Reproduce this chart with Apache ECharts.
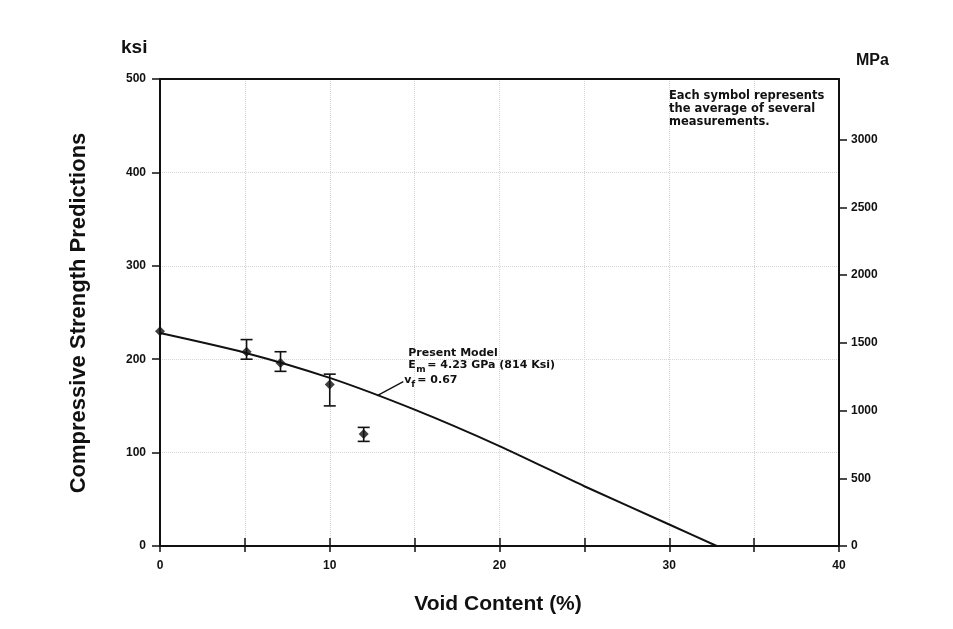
<!DOCTYPE html>
<html>
<head>
<meta charset="utf-8">
<script src="https://cdn.jsdelivr.net/npm/echarts@6/dist/echarts.min.js"></script>
<style>
  html, body { margin: 0; padding: 0; background: #ffffff; }
  #chart { width: 953px; height: 629px; }
</style>
</head>
<body>
<div id="chart"></div>
<script>
// Measured groups: void content (%) and compressive strength (ksi) with scatter range
const voidContent  = [0, 5.1, 7.1, 10.0, 12.0];
const strengthMean = [230, 208, 196, 173, 120];
const strengthHigh = [null, 221, 208, 184, 127];
const strengthLow  = [null, 200, 187, 150, 112];

// Present model prediction (ksi) against void content (%)
const modelVoid     = [0, 5, 10, 15, 20, 25, 30, 32.8];
const modelStrength = [228, 207, 180, 146, 107, 64, 23, 0];

// Axis ticks
const voidTicks = [0, 5, 10, 15, 20, 25, 30, 35, 40];
const ksiTicks  = [0, 100, 200, 300, 400, 500];
const mpaTicks  = [0, 500, 1000, 1500, 2000, 2500, 3000];
const KSI_TO_MPA = 6.894757;

const FONT = '"Liberation Sans", Arial, Helvetica, sans-serif';
const WIDE = '"DejaVu Sans", "Liberation Sans", sans-serif';
const INK = '#111111';
const GRIDDOT = '#d6d6d6';

const chart = echarts.init(document.getElementById('chart'), null, { renderer: 'canvas' });

const errorData = [];
voidContent.forEach((v, i) => {
  if (strengthHigh[i] != null) errorData.push([v, strengthHigh[i], strengthLow[i]]);
});

const labelStyle = { color: INK, fontFamily: FONT, fontWeight: 'bold', fontSize: 12 };
const plain = v => String(v);

const option = {
  backgroundColor: '#ffffff',
  animation: false,
  grid: { left: 160, right: 114, top: 79, bottom: 83, containLabel: false },
  xAxis: [
    {
      type: 'value', position: 'bottom', min: 0, max: 40, interval: 5,
      axisLine: { show: true, onZero: false, lineStyle: { color: INK, width: 2 } },
      axisTick: { show: true, inside: true, length: 8, customValues: voidTicks,
                  lineStyle: { color: INK, width: 1.5 } },
      axisLabel: Object.assign({ margin: 14, formatter: v => (v % 10 === 0 ? String(v) : '') }, labelStyle),
      splitLine: { show: true, lineStyle: { color: GRIDDOT, type: 'dotted', width: 1 } }
    },
    {
      // upper frame edge
      type: 'value', position: 'top', min: 0, max: 40,
      axisLine: { show: true, onZero: false, lineStyle: { color: INK, width: 2 } },
      axisTick: { show: false }, axisLabel: { show: false }, splitLine: { show: false }
    },
    {
      // lower half of the crossing x ticks
      type: 'value', position: 'bottom', min: 0, max: 40, interval: 5,
      axisLine: { show: false, onZero: false },
      axisTick: { show: true, inside: false, length: 6, customValues: voidTicks,
                  lineStyle: { color: INK, width: 1.5 } },
      axisLabel: { show: false }, splitLine: { show: false }
    }
  ],
  yAxis: [
    {
      type: 'value', position: 'left', min: 0, max: 500, interval: 100,
      axisLine: { show: true, onZero: false, lineStyle: { color: INK, width: 2 } },
      axisTick: { show: true, inside: false, length: 8, customValues: ksiTicks,
                  lineStyle: { color: INK, width: 1.5 } },
      axisLabel: Object.assign({ margin: 14, customValues: ksiTicks, formatter: plain }, labelStyle),
      splitLine: { show: true, lineStyle: { color: GRIDDOT, type: 'dotted', width: 1 } }
    },
    {
      type: 'value', position: 'right', min: 0, max: 500 * KSI_TO_MPA, interval: 500,
      axisLine: { show: true, onZero: false, lineStyle: { color: INK, width: 2 } },
      axisTick: { show: true, inside: false, length: 8, customValues: mpaTicks,
                  lineStyle: { color: INK, width: 1.5 } },
      axisLabel: Object.assign({ margin: 12, customValues: mpaTicks, formatter: plain }, labelStyle),
      splitLine: { show: false }
    }
  ],
  series: [
    {
      name: 'Present Model', type: 'line', xAxisIndex: 0, yAxisIndex: 0,
      data: modelVoid.map((v, i) => [v, modelStrength[i]]),
      smooth: 0.25, showSymbol: false, symbol: 'none',
      lineStyle: { color: INK, width: 2 }, z: 3
    },
    {
      name: 'range', type: 'custom', xAxisIndex: 0, yAxisIndex: 0,
      data: errorData, clip: false, z: 4,
      renderItem: function (params, api) {
        const x = api.value(0);
        const top = api.coord([x, api.value(1)]);
        const bot = api.coord([x, api.value(2)]);
        const half = 6;
        const style = { stroke: INK, lineWidth: 1.6 };
        return {
          type: 'group',
          children: [
            { type: 'line', shape: { x1: top[0], y1: top[1], x2: bot[0], y2: bot[1] }, style: style },
            { type: 'line', shape: { x1: top[0] - half, y1: top[1], x2: top[0] + half, y2: top[1] }, style: style },
            { type: 'line', shape: { x1: bot[0] - half, y1: bot[1], x2: bot[0] + half, y2: bot[1] }, style: style }
          ]
        };
      }
    },
    {
      name: 'measured', type: 'scatter', xAxisIndex: 0, yAxisIndex: 0,
      data: voidContent.map((v, i) => [v, strengthMean[i]]),
      symbol: 'diamond', symbolSize: 10, clip: false, z: 5,
      itemStyle: { color: INK }
    }
  ]
};

chart.setOption(option);

// Titles, note and the model annotation with a leader line touching the curve
const anchor = chart.convertToPixel({ xAxisIndex: 0, yAxisIndex: 0 }, [12.8, 161]);
const tx = anchor[0] + 31, ty = anchor[1] - 48;
chart.setOption({
  graphic: [
    { id: 'ksi', type: 'text', left: 121, top: 38,
      style: { text: 'ksi', fill: INK, font: 'bold 19px ' + FONT } },
    { id: 'mpa', type: 'text', left: 856, top: 53,
      style: { text: 'MPa', fill: INK, font: 'bold 16px ' + FONT } },
    { id: 'ytitle', type: 'text', x: 79, y: 313, rotation: Math.PI / 2,
      style: { text: 'Compressive Strength Predictions', fill: INK, font: 'bold 22px ' + FONT,
               align: 'center', verticalAlign: 'middle' } },
    { id: 'xtitle', type: 'text', x: 498, y: 604,
      style: { text: 'Void Content (%)', fill: INK, font: 'bold 21px ' + FONT,
               align: 'center', verticalAlign: 'middle' } },
    { id: 'note', type: 'text', x: 669, y: 90,
      style: { text: 'Each symbol represents\nthe average of several\nmeasurements.', fill: INK,
               font: 'bold 11.5px ' + WIDE, lineHeight: 13 } },
    { id: 'leader', type: 'line',
      shape: { x1: anchor[0], y1: anchor[1], x2: anchor[0] + 26, y2: anchor[1] - 14 },
      style: { stroke: INK, lineWidth: 1.3 } },
    { id: 'm1', type: 'text', x: tx, y: ty,
      style: { text: 'Present Model', fill: INK, font: 'bold 11px ' + WIDE } },
    { id: 'm2', type: 'text', x: tx, y: ty + 12,
      style: { text: 'E', fill: INK, font: 'bold 11px ' + WIDE } },
    { id: 'm3', type: 'text', x: tx + 8, y: ty + 18,
      style: { text: 'm', fill: INK, font: 'bold 9px ' + WIDE } },
    { id: 'm4', type: 'text', x: tx + 19, y: ty + 12,
      style: { text: '= 4.23 GPa (814 Ksi)', fill: INK, font: 'bold 11px ' + WIDE } },
    { id: 'm5', type: 'text', x: tx - 4, y: ty + 27,
      style: { text: 'v', fill: INK, font: 'bold 11px ' + WIDE } },
    { id: 'm6', type: 'text', x: tx + 3, y: ty + 33,
      style: { text: 'f', fill: INK, font: 'bold 9px ' + WIDE } },
    { id: 'm7', type: 'text', x: tx + 9, y: ty + 27,
      style: { text: '= 0.67', fill: INK, font: 'bold 11px ' + WIDE } }
  ]
});
</script>
</body>
</html>
